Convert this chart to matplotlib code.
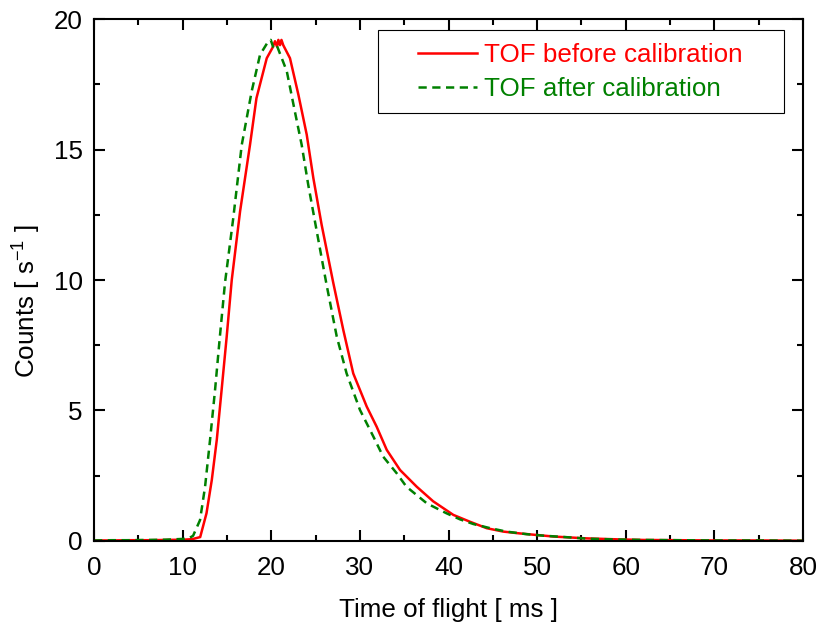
import matplotlib
matplotlib.use("Agg")
import matplotlib.pyplot as plt
from matplotlib.patches import Rectangle
from matplotlib.ticker import MultipleLocator

# Courbes (temps de vol en ms, taux de comptage en s^-1)
red_x = [0, 2.01, 4.03, 6.04, 8.06, 10.07, 11.08, 11.98, 12.69, 13.29, 13.85,
         14.4, 14.97, 15.54, 16.48, 17.6, 18.33, 19.49, 20.14, 20.42, 20.64,
         20.8, 20.99, 21.15, 21.35, 22.11, 23.06, 24.0, 24.75, 25.68, 26.99,
         28.13, 29.25, 30.77, 31.89, 33.03, 34.53, 36.41, 38.27, 40.54, 42.4,
         44.31, 46.18, 48.04, 49.95, 51.86, 55.59, 59.32, 62, 66, 70, 75, 80]
red_y = [0.02, 0.02, 0.03, 0.03, 0.04, 0.05, 0.07, 0.15, 1.06, 2.34, 3.87, 5.8,
         7.83, 10.0, 12.63, 15.18, 16.97, 18.5, 18.9, 19.15, 18.95, 19.2, 19.0,
         19.2, 19.0, 18.5, 17.1, 15.57, 13.9, 12.12, 9.9, 8.08, 6.42, 5.15, 4.38,
         3.49, 2.72, 2.08, 1.52, 1.0, 0.74, 0.49, 0.36, 0.29, 0.23, 0.17, 0.1,
         0.06, 0.04, 0.03, 0.02, 0.02, 0.01]

green_x = [0, 2.01, 4.03, 6.04, 8.06, 10.07, 10.67, 11.18, 11.96, 12.53, 13.09,
           13.66, 14.2, 14.78, 15.71, 16.67, 17.79, 18.73, 19.67, 19.94, 20.24,
           20.61, 21.75, 22.66, 23.43, 24.17, 25.13, 26.25, 27.39, 28.5, 30.01,
           31.52, 32.63, 34.14, 35.25, 37.56, 39.78, 41.29, 42.8, 44.71, 46.53,
           48.84, 50.86, 53.17, 55.59, 58.61, 62, 66, 70, 75, 80]
green_y = [0.02, 0.03, 0.03, 0.04, 0.05, 0.08, 0.1, 0.2, 0.8, 2.08, 3.87, 5.8,
           7.83, 9.9, 12.37, 15.18, 17.23, 18.63, 19.15, 19.2, 18.9, 19.0, 18.0,
           16.46, 15.18, 13.65, 11.87, 9.8, 7.83, 6.42, 5.02, 4.0, 3.23, 2.6,
           2.08, 1.44, 1.06, 0.83, 0.65, 0.49, 0.36, 0.26, 0.2, 0.15, 0.09, 0.06,
           0.04, 0.03, 0.02, 0.02, 0.01]

plt.rcParams["font.family"] = ["Liberation Sans", "DejaVu Sans"]
fs = 18.7

fig = plt.figure(figsize=(8.19, 6.26), dpi=100)
ax = fig.add_axes([0.1148, 0.1358, 0.8657, 0.8338])

ax.plot(red_x, red_y, color="#ff0000", lw=1.8, label="TOF before calibration")
ax.plot(green_x, green_y, color="#008000", lw=1.8, dashes=(3.3, 2.2),
        label="TOF after calibration")

ax.set_xlim(0, 80)
ax.set_ylim(0, 20)
ax.xaxis.set_major_locator(MultipleLocator(10))
ax.xaxis.set_minor_locator(MultipleLocator(5))
ax.yaxis.set_major_locator(MultipleLocator(5))
ax.yaxis.set_minor_locator(MultipleLocator(2.5))
ax.tick_params(which="both", direction="in", top=True, right=True, width=1.5,
               labelsize=fs)
ax.tick_params(which="major", length=8)
ax.tick_params(which="minor", length=4.5)
ax.tick_params(axis="x", pad=11)
ax.tick_params(axis="y", pad=8)
for s in ax.spines.values():
    s.set_linewidth(1.5)

ax.set_xlabel("Time of flight [ ms ]", fontsize=fs, labelpad=13)
ax.set_ylabel("Counts [ s$^{\\mathregular{-1}}$ ]", fontsize=fs)
ax.yaxis.set_label_coords(-0.073, 0.46)

# cadre de la légende
ax.add_patch(Rectangle((0.4006, 0.8199), 0.5726, 0.159, transform=ax.transAxes,
                       fill=True, facecolor="white", edgecolor="black",
                       lw=0.8, zorder=4))
leg = ax.legend(loc="upper left", bbox_to_anchor=(0.457, 0.954),
                borderaxespad=0, borderpad=0, fontsize=fs,
                labelcolor="linecolor", handlelength=2.27, handletextpad=0.27,
                labelspacing=0.39, frameon=False)
leg.set_zorder(5)

fig.savefig("out.png", dpi=100)
